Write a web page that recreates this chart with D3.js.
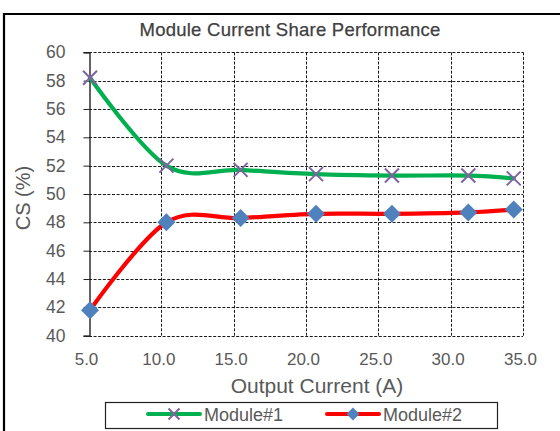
<!DOCTYPE html>
<html>
<head>
<meta charset="utf-8">
<script src="https://cdn.jsdelivr.net/npm/d3@7"></script>
<style>
  html, body { margin: 0; padding: 0; background: #fff; }
  svg { display: block; }
  text { font-family: "Liberation Sans", Arial, sans-serif; fill: #595959; }
</style>
</head>
<body>
<script>
// Output current (A) at each measurement
const currents = [5.07, 10.35, 15.48, 20.69, 25.94, 31.22, 34.36];
// Current share (%) of each module
const module1 = [58.2, 52.0, 51.7, 51.4, 51.3, 51.3, 51.1];
const module2 = [41.8, 48.0, 48.3, 48.6, 48.6, 48.7, 48.9];
const seriesNames = ["Module#1", "Module#2"];
const xTicks = [5, 10, 15, 20, 25, 30, 35];
const yTicks = [40, 42, 44, 46, 48, 50, 52, 54, 56, 58, 60];

const W = 560, H = 431;
const FONT = '"Liberation Sans", Arial, sans-serif';
const svg = d3.select("body").append("svg").attr("width", W).attr("height", H);

// chart frame
svg.append("path")
  .attr("d", `M4,${H + 5}V14H${W + 5}`)
  .attr("fill", "none").attr("stroke", "#000").attr("stroke-width", 2.2);

const x = d3.scaleLinear().domain([5, 35]).range([89, 523]);
const y = d3.scaleLinear().domain([40, 60]).range([335.7, 52.3]);

const grid = svg.append("g").attr("stroke", "#1a1a1a").attr("stroke-width", 1)
  .attr("stroke-dasharray", "3,1.6").attr("fill", "none");
// horizontal grid
yTicks.forEach(v => {
  grid.append("line").attr("x1", x(5)).attr("x2", x(35))
    .attr("y1", Math.round(y(v)) + 0.5).attr("y2", Math.round(y(v)) + 0.5);
});
// vertical grid
xTicks.slice(1).forEach(v => {
  grid.append("line").attr("y1", y(60)).attr("y2", y(40))
    .attr("x1", Math.round(x(v)) + 0.5).attr("x2", Math.round(x(v)) + 0.5);
});

// value axis
const yAxis = svg.append("g").attr("transform", `translate(${Math.round(x(5)) + 0.5},0)`)
  .call(d3.axisLeft(y).tickValues(yTicks).tickSize(6).tickPadding(18).tickFormat(d3.format("d")));
yAxis.select(".domain").attr("stroke", "#222").attr("stroke-width", 1.4);
yAxis.selectAll(".tick line").attr("stroke", "#222");
yAxis.selectAll(".tick text").attr("fill", "#595959").style("font-size", "17.5px")
  .style("font-family", FONT);

// category axis labels
const xAxis = svg.append("g").attr("transform", `translate(-3,${y(40)})`)
  .call(d3.axisBottom(x).tickValues(xTicks).tickSize(0).tickPadding(17).tickFormat(d3.format(".1f")));
xAxis.select(".domain").remove();
xAxis.selectAll(".tick text").attr("fill", "#595959").style("font-size", "17px")
  .style("font-family", FONT);

// titles
svg.append("text").attr("x", 290).attr("y", 36).attr("text-anchor", "middle")
  .style("font-size", "18.5px").style("letter-spacing", "0.25px").style("fill", "#404040")
  .style("stroke", "#404040").style("stroke-width", 0.25)
  .text("Module Current Share Performance");
svg.append("text").attr("x", 317).attr("y", 393).attr("text-anchor", "middle")
  .style("font-size", "21px").text("Output Current (A)");
svg.append("text").attr("transform", "translate(30,198) rotate(-90)").attr("text-anchor", "middle")
  .style("font-size", "20px").text("CS (%)");

const line = d3.line().curve(d3.curveCardinal.tension(0));
const colors = ["#00B050", "#FF0000"];
const data = [module1, module2];

data.forEach((vals, i) => {
  svg.append("path")
    .attr("d", line(vals.map((v, j) => [x(currents[j]), y(v)])))
    .attr("fill", "none").attr("stroke", colors[i]).attr("stroke-width", 4.2)
    .attr("stroke-linejoin", "round").attr("stroke-linecap", "round");
});

function crossMarker(g, cx, cy, r) {
  g.append("path").attr("d", `M${cx - r},${cy - r}L${cx + r},${cy + r}M${cx - r},${cy + r}L${cx + r},${cy - r}`)
    .attr("stroke", "#8064A2").attr("stroke-width", 2).attr("fill", "none");
}
function diamondMarker(g, cx, cy, r) {
  g.append("path").attr("d", `M${cx},${cy - r}L${cx + r},${cy}L${cx},${cy + r}L${cx - r},${cy}Z`)
    .attr("fill", "#4F81BD");
}

const marks = svg.append("g");
module1.forEach((v, j) => crossMarker(marks, x(currents[j]), y(v), 7));
module2.forEach((v, j) => diamondMarker(marks, x(currents[j]), y(v), 9));

// legend
const lg = svg.append("g");
lg.append("rect").attr("x", 105.5).attr("y", 402.5).attr("width", 392).attr("height", 26)
  .attr("fill", "#fff").attr("stroke", "#222").attr("stroke-width", 1.2);
const legendX = [148, 327];
seriesNames.forEach((name, i) => {
  const lx = legendX[i], ly = 414;
  lg.append("line").attr("x1", lx).attr("x2", lx + 52).attr("y1", ly).attr("y2", ly)
    .attr("stroke", colors[i]).attr("stroke-width", 4).attr("stroke-linecap", "round");
  if (i === 0) crossMarker(lg, lx + 26, ly, 5.5);
  else diamondMarker(lg, lx + 26, ly, 6.5);
  lg.append("text").attr("x", lx + 56).attr("y", 420.5).style("font-size", "18px").text(name);
});
</script>
</body>
</html>
